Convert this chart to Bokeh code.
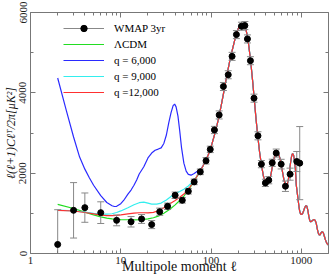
import numpy as np
from bokeh.plotting import figure
from bokeh.models import (FixedTicker, LogAxis, LinearAxis, Legend,
                          LegendItem, ColumnDataSource)
from bokeh.embed import file_html
from bokeh.resources import INLINE

# ---------------- data ----------------
wmap_l = [2, 3, 4, 6, 9, 13, 17, 22, 27, 33, 40, 48, 56, 65, 76, 88, 98, 109, 123,
          137, 155, 171, 191, 217, 237, 253, 273, 299, 331, 361, 400, 436, 476,
          527, 598, 667, 751, 890, 960]
wmap_dl = [225, 1075, 1142, 1017, 825, 790, 860, 720, 1040, 1175, 1450, 1325, 1550,
           1783, 2033, 2308, 2592, 3075, 3450, 4158, 4450, 4908, 5450, 5658, 5675,
           5342, 4800, 3867, 2930, 2225, 1758, 1825, 2258, 2500, 2225, 1675, 1975,
           2290, 2250]
wmap_err = [865, 690, 365, 270, 135, 130, 110, 100, 90, 80, 80, 70, 70, 70, 70, 80,
            80, 90, 100, 100, 100, 100, 100, 100, 100, 100, 100, 100, 100, 90, 90,
            90, 90, 100, 120, 130, 150, 250, 910]

lcdm_l = [2, 3, 4, 5, 6, 7, 8, 9, 10, 12, 14, 16, 18, 20, 23, 26, 30, 35, 40, 45,
          50, 56, 65, 76]
lcdm_dl = [1225, 1120, 1030, 960, 910, 880, 860, 850, 845, 840, 838, 840, 848, 862,
           890, 930, 1000, 1100, 1210, 1320, 1430, 1575, 1800, 2050]

q6_l = [2, 2.5, 3, 3.5, 4, 4.5, 5, 6, 7, 8, 8.5, 9, 10, 11, 12, 13, 14, 15, 16, 18,
        20, 22, 24, 26, 28, 30, 32, 34, 36, 38, 39.5, 41, 43, 45, 47, 50, 53, 56,
        60, 65, 70, 76]
q6_dl = [4370, 3550, 2900, 2400, 2100, 1880, 1700, 1440, 1270, 1190, 1170, 1175,
         1240, 1350, 1480, 1580, 1700, 1830, 1980, 2160, 2380, 2500, 2570, 2600,
         2630, 2740, 2950, 3250, 3500, 3680, 3720, 3650, 3420, 3050, 2650, 2250,
         2050, 1970, 1950, 1990, 2040, 2080]

q9_l = [2, 3, 4, 5, 6, 7, 8, 9, 10, 12, 14, 16, 18, 20, 22, 25, 28, 32, 36, 40, 45,
        50, 56, 65, 76]
q9_dl = [1080, 1060, 1030, 1000, 980, 978, 990, 1020, 1060, 1140, 1215, 1265, 1280,
         1255, 1230, 1228, 1255, 1330, 1420, 1490, 1545, 1600, 1680, 1820, 2060]

q12_l = [2, 3, 4, 5, 6, 7, 8, 9, 10, 12, 14, 16, 18, 20, 23, 26, 30, 35, 40, 45,
         50, 56, 65, 76]
q12_dl = [1075, 1058, 1020, 985, 955, 945, 945, 950, 960, 985, 1005, 1015, 1015,
          1010, 1025, 1065, 1140, 1240, 1320, 1400, 1480, 1600, 1810, 2060]

# shared acoustic-peak part of all model curves
acoustic_l = [82, 88, 95, 100, 110, 120, 130, 140, 150, 160, 170, 180, 190, 200, 210,
              220, 230, 240, 250, 260, 270, 280, 290, 300, 315, 330, 345, 360, 380,
              400, 420, 440, 460, 480, 500, 520, 540, 560, 580, 600, 620, 640, 660,
              680, 700, 720, 740, 760, 780, 800, 820, 840, 860, 880, 900, 920, 940,
              960, 980, 1000, 1030, 1060, 1090, 1120, 1150, 1180, 1210, 1240, 1270,
              1300, 1340, 1380, 1420, 1460, 1500, 1540, 1580, 1620, 1660, 1700, 1750,
              1800, 1850, 1900, 1950, 2000]
acoustic_dl = [2190, 2330, 2500, 2650, 2980, 3320, 3700, 4080, 4450, 4760, 5020, 5250,
               5450, 5600, 5690, 5730, 5710, 5630, 5460, 5220, 4930, 4600, 4250, 3880,
               3350, 2900, 2520, 2230, 1930, 1770, 1720, 1790, 1960, 2190, 2370, 2480,
               2520, 2480, 2370, 2210, 2020, 1850, 1730, 1690, 1720, 1850, 2050, 2260,
               2420, 2490, 2450, 2310, 2100, 1700, 1520, 1350, 1180, 1050, 990, 970,
               990, 1060, 1140, 1190, 1180, 1080, 930, 820, 790, 800, 830, 845, 830,
               760, 620, 510, 460, 470, 520, 540, 520, 430, 340, 270, 230, 210]

x_major = [1, 10, 100, 1000]
x_tick_labels = ["1", "10", "100", "1000"]
x_minor = [2, 3, 4, 5, 6, 7, 8, 9, 20, 30, 40, 50, 60, 70, 80, 90,
           200, 300, 400, 500, 600, 700, 800, 900, 2000]
y_major = [0, 2000, 4000, 6000]
y_minor = [1000, 3000, 5000]

legend_labels = ["WMAP 3yr", "ΛCDM", "q = 6,000", "q = 9,000", "q =12,000"]
x_title = "Multipole moment ℓ"
y_title = "ℓ(ℓ+1)Cℓᵀ/2π[μK²]"

# ---------------- figure ----------------
SERIF = "Liberation Serif"
AX = "#777777"

p = figure(width=330, height=276, x_axis_type="log", x_range=(1, 2000),
           y_range=(0, 6000), output_backend="svg", toolbar_location=None,
           min_border_left=29, min_border_right=2, min_border_top=12,
           min_border_bottom=23)
p.xgrid.visible = False
p.ygrid.visible = False
p.outline_line_color = None
p.background_fill_color = "white"


def style_axis(ax, ticks, minor, show_labels):
    ax.ticker = FixedTicker(ticks=ticks, minor_ticks=minor)
    ax.axis_line_color = AX
    ax.major_tick_line_color = AX
    ax.minor_tick_line_color = AX
    ax.major_tick_in = 5
    ax.major_tick_out = 0
    ax.minor_tick_in = 3
    ax.minor_tick_out = 0
    if show_labels:
        ax.major_label_text_font = SERIF
        ax.major_label_text_font_size = "11px"
        ax.major_label_text_color = "#222222"
        ax.major_label_standoff = 3
    else:
        ax.major_label_text_font_size = "1px"
        ax.major_label_text_alpha = 0
        ax.major_label_standoff = 0


xax = p.xaxis[0]
style_axis(xax, x_major, x_minor, True)
xax.major_label_overrides = {t: s for t, s in zip(x_major, x_tick_labels)}
xax.axis_label = x_title
xax.axis_label_text_font = SERIF
xax.axis_label_text_font_size = "14px"
xax.axis_label_text_font_style = "normal"
xax.axis_label_text_color = "#111111"
xax.axis_label_standoff = -8

yax = p.yaxis[0]
style_axis(yax, y_major, y_minor, True)
yax.major_label_orientation = "vertical"
yax.major_label_standoff = 4
yax.axis_label = y_title
yax.axis_label_text_font = SERIF
yax.axis_label_text_font_size = "12px"
yax.axis_label_text_font_style = "italic"
yax.axis_label_text_color = "#111111"
yax.axis_label_standoff = -1

top_ax = LogAxis()
style_axis(top_ax, x_major, x_minor, False)
p.add_layout(top_ax, "above")
right_ax = LinearAxis()
style_axis(right_ax, y_major, y_minor, False)
p.add_layout(right_ax, "right")

# ---------------- model curves ----------------
def full(l_low, dl_low):
    return list(l_low) + acoustic_l, list(dl_low) + acoustic_dl

lw = 1.2
gx, gy = full(lcdm_l, lcdm_dl)
r_green = p.line(gx, gy, line_color="#22dd22", line_width=lw)
bx, by = full(q6_l, q6_dl)
r_blue = p.line(bx, by, line_color="#2a2aff", line_width=lw)
cx, cy = full(q9_l, q9_dl)
r_cyan = p.line(cx, cy, line_color="#33eeee", line_width=lw)
rx, ry = full(q12_l, q12_dl)
r_red = p.line(rx, ry, line_color="#ff3030", line_width=lw)

# ---------------- data points ----------------
dl = np.array(wmap_dl, dtype=float)
er = np.array(wmap_err, dtype=float)
src = ColumnDataSource(dict(l=wmap_l, dl=dl, lo=dl - er, hi=dl + er))
r_err = p.segment(x0="l", y0="lo", x1="l", y1="hi", source=src,
                  line_color="#888888", line_width=1)
p.scatter(x="l", y="hi", source=src, marker="dash", size=7,
          line_color="#888888", line_width=1)
p.scatter(x="l", y="lo", source=src, marker="dash", size=7,
          line_color="#888888", line_width=1)
r_dot = p.scatter(x="l", y="dl", source=src, marker="circle", size=6,
                  fill_color="black", line_color="black")

# ---------------- legend ----------------
items = [
    LegendItem(label=legend_labels[0], renderers=[r_err, r_dot]),
    LegendItem(label=legend_labels[1], renderers=[r_green]),
    LegendItem(label=legend_labels[2], renderers=[r_blue]),
    LegendItem(label=legend_labels[3], renderers=[r_cyan]),
    LegendItem(label=legend_labels[4], renderers=[r_red]),
]
legend = Legend(items=items, location=(33, 153), glyph_width=41, glyph_height=16,
                label_height=16, label_standoff=10, spacing=0, padding=0,
                margin=0, border_line_alpha=0, background_fill_alpha=0,
                label_text_font=SERIF, label_text_font_size="11px",
                label_text_color="black")
p.add_layout(legend)

open("out.html", "w").write(file_html(p, INLINE))
